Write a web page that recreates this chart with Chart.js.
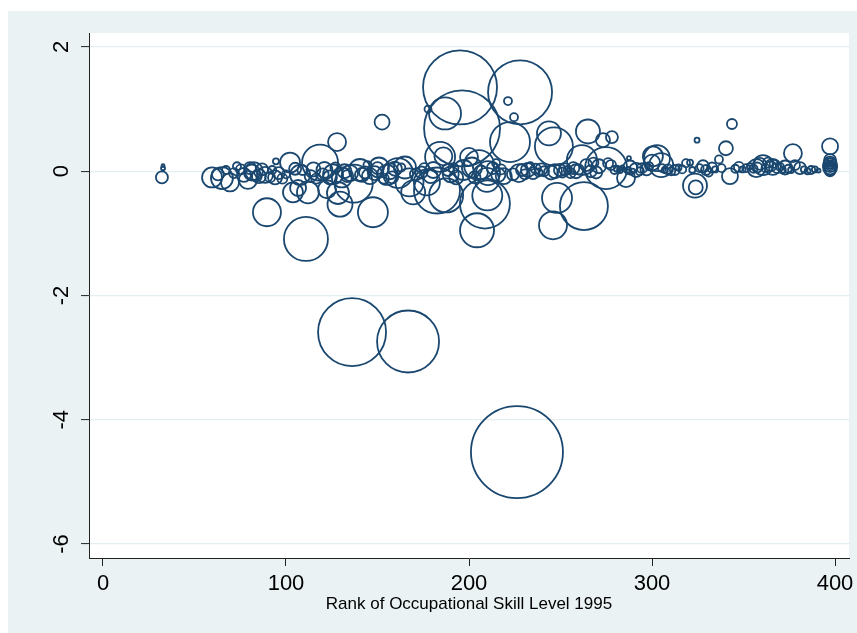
<!DOCTYPE html>
<html>
<head>
<meta charset="utf-8">
<script src="https://cdn.jsdelivr.net/npm/chart.js@4/dist/chart.umd.min.js"></script>
<style>
  html, body { margin: 0; padding: 0; background: #ffffff; }
  #wrap { width: 857px; height: 633px; position: relative; }
</style>
</head>
<body>
<div id="wrap"><canvas id="chart"></canvas></div>
<script>
// Occupations: skill rank in 1995, estimated coefficient, employment weight
const rank = [
  32.2, 32.8, 32.8, 59.6, 62.8, 65.0, 67.2, 69.4, 71.6, 73.2,
  75.4, 77.0, 79.2, 80.3, 81.4, 82.5, 84.0, 85.2, 86.9, 88.5,
  89.6, 91.3, 92.5, 94.0, 94.5, 96.0, 98.0, 100.0, 102.2, 103.8,
  105.0, 106.6, 107.7, 109.0, 110.9, 112.0, 113.5, 115.0, 116.5, 118.6,
  120.0, 121.0, 122.4, 124.0, 125.7, 127.0, 127.9, 128.4, 129.5, 130.5,
  132.0, 133.5, 135.0, 136.1, 137.0, 140.4, 141.5, 143.2, 144.5, 145.9,
  147.5, 148.5, 150.0, 150.8, 152.5, 153.5, 155.2, 156.8, 158.0, 159.5,
  161.2, 163.0, 165.0, 166.7, 167.5, 169.5, 171.0, 174.0, 175.5, 177.0,
  177.6, 179.0, 180.5, 182.5, 184.2, 186.0, 186.9, 187.5, 188.5, 190.0,
  191.5, 193.0, 195.1, 196.2, 197.0, 200.0, 201.6, 203.0, 204.4, 205.5,
  206.5, 208.7, 209.8, 210.0, 210.4, 213.0, 214.8, 216.0, 217.5, 219.0,
  221.3, 222.4, 224.0, 224.6, 226.2, 227.3, 227.9, 229.0, 230.5, 232.2,
  233.5, 235.0, 236.5, 238.0, 239.5, 241.0, 243.7, 244.8, 245.9, 246.4,
  247.0, 248.1, 249.7, 251.0, 252.5, 254.0, 255.5, 257.0, 258.5, 260.0,
  261.7, 262.8, 264.0, 265.0, 266.5, 268.0, 269.5, 271.0, 273.2, 274.9,
  276.0, 277.6, 278.1, 279.5, 280.8, 282.5, 283.8, 285.8, 287.0, 287.4,
  288.0, 289.5, 291.3, 293.4, 294.5, 297.0, 298.5, 300.0, 300.5, 302.7,
  305.0, 305.5, 307.0, 308.7, 310.5, 312.5, 314.5, 316.5, 318.6, 320.8,
  322.0, 323.5, 323.9, 324.6, 326.0, 327.9, 329.5, 331.0, 332.8, 334.5,
  336.6, 338.0, 340.4, 342.6, 343.7, 345.5, 347.5, 349.5, 351.5, 353.5,
  355.5, 357.0, 357.5, 359.0, 360.7, 362.0, 363.4, 365.0, 366.0, 366.5,
  368.5, 370.0, 371.5, 372.7, 374.5, 376.0, 377.0, 378.1, 380.9, 383.0,
  385.0, 387.0, 389.0, 391.0, 397.3, 397.3, 397.3, 397.3, 397.3, 397.3,
  397.3, 397.3, 397.3, 397.3
];
const coef = [
  -0.10, 0.05, 0.09, -0.10, -0.05, -0.11, 0.02, -0.18, -0.03, 0.08,
  0.03, -0.06, -0.14, 0.05, -0.02, 0.00, -0.08, -0.08, 0.03, -0.06,
  -0.66, -0.10, 0.02, -0.10, 0.16, -0.03, -0.12, -0.05, 0.14, -0.34,
  0.04, -0.27, -0.06, 0.02, -1.09, -0.34, -0.08, 0.03, -0.12, 0.14,
  -0.05, 0.02, -0.29, -0.10, -0.05, 0.06, 0.47, -0.35, -0.53, -0.10,
  0.00, -0.08, -0.03, -2.59, -0.20, 0.02, -0.06, -0.02, 0.10, -0.08,
  -0.66, -0.03, 0.05, 0.06, 0.79, -0.12, -0.06, 0.00, -0.10, 0.04,
  -0.03, 0.06, 0.06, -2.74, -0.18, -0.34, -0.05, -0.02, 0.05, -0.18,
  1.00, -0.08, 0.02, -0.31, 0.23, 0.24, 0.93, -0.39, 0.02, -0.05,
  0.05, -0.10, 1.35, 0.69, 0.02, 0.23, 0.06, -0.10, -0.95, 0.10,
  -0.02, -0.52, -0.14, -0.39, -0.03, 0.05, 0.13, -0.06, 0.03, -0.08,
  1.13, 0.47, -0.05, 0.87, -4.52, -0.03, 1.27, 0.02, -0.05, 0.02,
  0.08, -0.03, 0.04, -0.02, 0.03, 0.00, 0.61, -0.02, -0.87, 0.40,
  0.00, -0.43, 0.02, -0.02, 0.03, 0.02, -0.03, 0.05, 0.00, 0.03,
  0.18, -0.56, 0.10, 0.64, 0.00, 0.14, -0.02, 0.08, 0.50, 0.05,
  0.13, 0.10, 0.55, 0.02, 0.04, 0.02, 0.06, -0.11, 0.02, 0.21,
  0.06, 0.01, 0.02, 0.00, 0.05, 0.03, 0.08, 0.14, 0.24, 0.21,
  0.10, 0.05, 0.02, 0.03, 0.00, 0.02, 0.06, 0.03, 0.13, 0.14,
  0.02, -0.23, -0.26, 0.50, 0.05, 0.08, 0.02, -0.02, 0.06, 0.03,
  0.19, 0.05, 0.37, -0.08, 0.76, 0.04, 0.07, 0.03, 0.05, 0.08,
  0.04, 0.05, 0.06, 0.12, 0.10, 0.05, 0.14, 0.08, 0.07, 0.12,
  0.05, 0.07, 0.02, 0.06, 0.04, 0.02, 0.29, 0.10, 0.05, 0.03,
  0.00, 0.02, 0.03, 0.01, 0.40, 0.18, 0.14, 0.10, 0.06, 0.03,
  0.00, 0.08, 0.12, 0.16
];
const weight = [
  36, 4, 2.25, 100, 36, 121, 16, 81, 25, 16,
  25, 49, 81, 36, 64, 81, 25, 49, 36, 64,
  196, 25, 16, 49, 9, 36, 25, 16, 100, 100,
  36, 64, 100, 25, 484, 121, 36, 49, 25, 324,
  36, 64, 81, 49, 100, 25, 81, 121, 156, 100,
  49, 36, 64, 1156, 361, 121, 49, 36, 16, 64,
  225, 49, 36, 100, 56, 25, 100, 64, 36, 49,
  225, 16, 121, 961, 196, 144, 36, 36, 25, 169,
  12.25, 49, 64, 529, 225, 81, 256, 289, 36, 64,
  25, 49, 1369, 1444, 100, 81, 100, 36, 289, 225,
  49, 625, 144, 225, 144, 36, 16, 49, 25, 64,
  16, 400, 36, 16, 2116, 81, 1024, 36, 25, 49,
  16, 36, 25, 16, 36, 25, 144, 49, 196, 361,
  49, 225, 36, 25, 36, 16, 25, 36, 49, 25,
  225, 576, 36, 144, 36, 25, 36, 49, 49, 441,
  25, 25, 36, 16, 9, 9, 4, 81, 9, 4,
  49, 4, 49, 16, 25, 36, 16, 64, 100, 169,
  144, 16, 9, 25, 16, 25, 9, 16, 16, 9,
  9, 144, 49, 6.25, 16, 36, 25, 16, 25, 9,
  16, 16, 49, 64, 25, 16, 25, 9, 16, 9,
  16, 81, 25, 36, 100, 16, 25, 25, 64, 16,
  25, 16, 9, 49, 16, 9, 81, 25, 36, 9,
  9, 16, 9, 4, 64, 36, 36, 49, 49, 36,
  25, 16, 9, 9
];

const xTickValues = [0, 100, 200, 300, 400];
const yTickValues = [-6, -4, -2, 0, 2];
const xTitle = 'Rank of Occupational Skill Level 1995';

const NAVY = '#1A476F';
const PANEL = '#EAF2F3';

const points = rank.map((x, i) => ({ x: x, y: coef[i], r: Math.sqrt(weight[i]) }));

// Light outer panel with a white plot region
const panelPlugin = {
  id: 'panelPlugin',
  beforeDraw(chart) {
    const { ctx, chartArea: a, width, height } = chart;
    ctx.save();
    ctx.fillStyle = '#ffffff';
    ctx.fillRect(0, 0, width, height);
    ctx.fillStyle = PANEL;
    ctx.fillRect(8, 11, width - 8, height - 11);
    ctx.fillStyle = '#ffffff';
    ctx.fillRect(a.left, a.top, a.right - a.left, a.bottom - a.top);
    ctx.restore();
  }
};

new Chart(document.getElementById('chart'), {
  type: 'bubble',
  data: {
    datasets: [{
      data: points,
      borderColor: NAVY,
      backgroundColor: 'rgba(0,0,0,0)',
      borderWidth: 1.8,
      hoverBorderWidth: 1.8,
      hoverRadius: 0,
      clip: false
    }]
  },
  options: {
    responsive: true,
    maintainAspectRatio: false,
    animation: false,
    events: [],
    layout: { autoPadding: false, padding: { top: 33, right: 8, left: 0, bottom: 0 } },
    plugins: {
      legend: { display: false },
      tooltip: { enabled: false }
    },
    scales: {
      x: {
        type: 'linear',
        min: -7.65,
        max: 407.65,
        afterBuildTicks(scale) { scale.ticks = xTickValues.map(v => ({ value: v })); },
        afterFit(scale) { scale.height = 75; scale.paddingLeft = 0; scale.paddingRight = 0; },
        grid: { display: true, drawOnChartArea: false, drawTicks: true, tickLength: 8, tickColor: '#222', tickWidth: 1 },
        border: { display: true, color: '#222', width: 1 },
        ticks: {
          color: '#000',
          padding: 5,
          maxRotation: 0,
          minRotation: 0,
          font: { family: '"Liberation Sans", Arial, sans-serif', size: 22 }
        },
        title: {
          display: true,
          text: xTitle,
          color: '#000',
          padding: { top: 0, bottom: 18 },
          font: { family: '"Liberation Sans", Arial, sans-serif', size: 17 }
        }
      },
      y: {
        type: 'linear',
        min: -6.225,
        max: 2.225,
        afterBuildTicks(scale) { scale.ticks = yTickValues.map(v => ({ value: v })); },
        afterFit(scale) { scale.width = 89; scale.paddingTop = 0; scale.paddingBottom = 0; },
        grid: { display: true, drawOnChartArea: true, color: '#E4EEF1', lineWidth: 1.2, drawTicks: true, tickLength: 8, tickColor: '#222', tickWidth: 1 },
        border: { display: true, color: '#222', width: 1 },
        ticks: {
          color: '#000',
          padding: 9,
          minRotation: 90,
          maxRotation: 90,
          crossAlign: 'center',
          font: { family: '"Liberation Sans", Arial, sans-serif', size: 22 }
        }
      }
    }
  },
  plugins: [panelPlugin]
});
</script>
</body>
</html>
